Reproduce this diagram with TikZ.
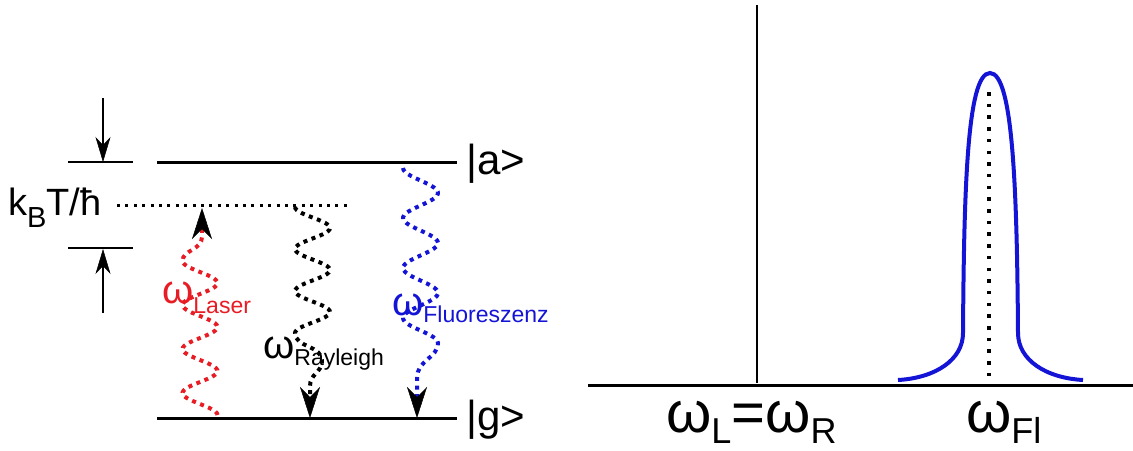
\documentclass[tikz,border=0pt]{standalone}
\usepackage{fontspec}
\setmainfont{Liberation Sans}
\usetikzlibrary{arrows.meta}
\definecolor{myred}{RGB}{232,28,36}
\definecolor{myblue}{RGB}{20,20,215}
\newcommand\mysubfont{\fontsize{23}{23}\selectfont}
\newcommand\mybigsub{\fontsize{36}{36}\selectfont}
\begin{document}
\begin{tikzpicture}[x=1pt,y=-1pt,
  level/.style={line width=3pt},
  tickline/.style={line width=2pt},
  dimarrow/.style={line width=1.5pt,-{Stealth[length=25pt,width=15pt,inset=8pt,line width=0.5pt]}},
  wave/.style={line width=4pt,dash pattern=on 4pt off 4.6pt,
    -{Stealth[length=31pt,width=20pt,inset=10pt,line width=0.5pt,color=black]}},
  dotline/.style={line width=3pt,dash pattern=on 3pt off 5.4pt},
  lab/.style={anchor=base west,inner sep=0pt,font=\fontsize{40}{40}\selectfont},
  biglab/.style={anchor=base west,inner sep=0pt,font=\fontsize{58}{58}\selectfont},
  statelab/.style={anchor=base west,inner sep=0pt,font=\fontsize{42}{42}\selectfont}
]
\useasboundingbox (0,0) rectangle (1133,450);

% ---- left: energy levels ----
\coordinate (aL) at (157,162); \coordinate (aR) at (457,162);
\coordinate (gL) at (157,418); \coordinate (gR) at (457,418);
\draw[level] (aL) -- (aR);
\draw[level] (gL) -- (gR);
\node[statelab] (ket a) at (466,174) {|a>};
\node[statelab] (ket g) at (466,430) {|g>};

% virtual level
\coordinate (vL) at (117,205); \coordinate (vR) at (347,205);
\draw[dotline] (vL) -- (vR);
\node[anchor=base west,inner sep=0pt,font=\fontsize{38}{38}\selectfont] (kbt) at (8,215)
  {k\raisebox{-12pt}{\fontsize{29}{29}\selectfont B}T/ħ};

% dimension ticks and arrows
\coordinate (t1L) at (68,162); \coordinate (t1R) at (133,162);
\coordinate (t2L) at (68,248); \coordinate (t2R) at (133,248);
\draw[tickline] (t1L) -- (t1R);
\draw[tickline] (t2L) -- (t2R);
\coordinate (d1s) at (103,98);  \coordinate (d1e) at (103,162);
\coordinate (d2s) at (103,313); \coordinate (d2e) at (103,249);
\draw[dimarrow] (d1s) -- (d1e);
\draw[dimarrow] (d2s) -- (d2e);

% laser wave (up)
\coordinate (lasS) at (217.5,415); \coordinate (lasE) at (202,208);
\draw[wave,myred] (lasS) -- plot[domain=0:3.5,samples=90] ({200+17.5*cos(360*\x)},{415-44*\x})
   .. controls (182.5,250) and (202,250) .. (202,237) -- (lasE);
\node[lab,text=myred] (wlaser) at (162,303) {ω\raisebox{-10pt}{\mysubfont Laser}};

% Rayleigh wave (down)
\coordinate (rayS) at (295,207); \coordinate (rayE) at (310,418);
\draw[wave,black] (rayS) -- plot[domain=0:3,samples=80] ({312.5-17.5*cos(360*\x)},{207+42*\x})
   .. controls (295,348) and (323,345) .. (322,362)
   .. controls (321,373) and (310,374) .. (310,386) -- (rayE);
\node[lab] (wray) at (263,358) {ω\raisebox{-7pt}{\mysubfont Rayleigh}};

% fluorescence wave (down)
\coordinate (fluS) at (403,168); \coordinate (fluE) at (417,418);
\draw[wave,myblue] (fluS) -- plot[domain=0:3.5,samples=90] ({420.5-17.5*cos(360*\x)},{168+50*\x})
   .. controls (438,358) and (417,360) .. (417,378) -- (fluE);
\node[lab,text=myblue] (wflu) at (392,315) {ω\raisebox{-7pt}{\mysubfont Fluoreszenz}};

% ---- right: spectrum ----
\coordinate (axL) at (588,385); \coordinate (axR) at (1133,385);
\draw[line width=3pt] (axL) -- (axR);
\coordinate (rayTop) at (757,5); \coordinate (rayBot) at (757,383);
\draw[line width=2.5pt] (rayTop) -- (rayBot);
\coordinate (pkL) at (898,380); \coordinate (pkR) at (1083,380);
\draw[myblue,line width=4pt] (pkL) .. controls (935,378) and (963,360) .. (963,333)
   .. controls (964,190) and (967,73) .. (990,73)
   .. controls (1013,73) and (1017,190) .. (1018,333)
   .. controls (1018,360) and (1046,378) .. (pkR);
\coordinate (cTop) at (989,92); \coordinate (cBot) at (989,384);
\draw[line width=3.5pt,dash pattern=on 3.5pt off 8.2pt] (cTop) -- (cBot);
\node[biglab] (wlr) at (666,432) {ω\raisebox{-11pt}{\mybigsub L}=ω\raisebox{-11pt}{\mybigsub R}};
\node[biglab] (wfl) at (966,432) {ω\raisebox{-11pt}{\mybigsub Fl}};
\end{tikzpicture}
\end{document}
